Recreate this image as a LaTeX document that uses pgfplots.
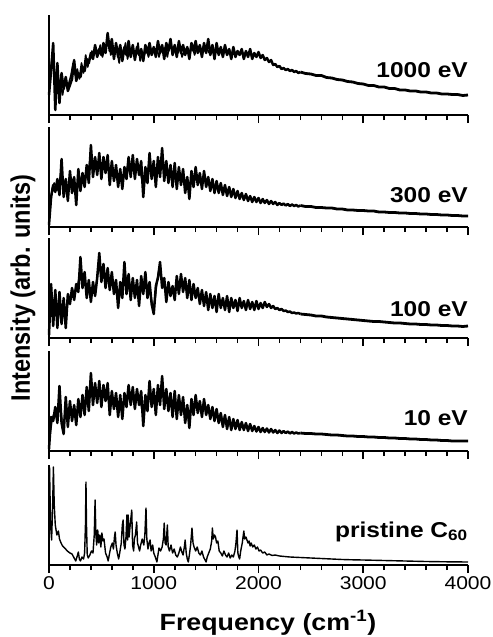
\documentclass[border=0pt]{standalone}
\usepackage{fontspec}
\setmainfont{Liberation Sans}
\usepackage{graphicx}
\usepackage{pgfplots}
\usepackage{pgfplotstable}
\pgfplotsset{compat=1.18}
\newcommand\hs[1]{\scalebox{1.14}[1]{#1}}
\newcommand\lblfont{\bfseries\fontsize{21.5bp}{22bp}\selectfont}

% ---- samples at 0,20,...,2400 cm^-1 ----
% 1000 eV
\pgfplotstableread[header=false,row sep=\\]{
20\\45\\72\\5\\52\\12\\42\\26\\38\\24\\
30\\36\\55\\34\\42\\38\\48\\44\\56\\52\\
62\\56\\70\\58\\66\\60\\72\\62\\82\\64\\
76\\56\\72\\58\\70\\54\\68\\60\\74\\58\\
70\\55\\68\\60\\66\\54\\70\\62\\72\\60\\
68\\58\\74\\62\\70\\56\\72\\64\\76\\60\\
70\\58\\74\\62\\70\\60\\68\\56\\72\\64\\
74\\62\\70\\58\\72\\62\\76\\60\\70\\56\\
72\\60\\68\\58\\70\\60\\66\\56\\68\\58\\
64\\60\\66\\56\\64\\58\\66\\56\\62\\58\\
63\\57\\60\\55\\57\\53\\55\\50\\51\\48\\
49\\46\\47\\45\\46\\44\\45\\43\\44\\42\\
43\\
}\tA
% 300 eV
\pgfplotstableread[header=false,row sep=\\]{
2\\30\\42\\35\\48\\32\\68\\30\\48\\26\\
56\\34\\50\\22\\58\\36\\54\\40\\62\\44\\
82\\50\\70\\52\\74\\48\\70\\54\\72\\42\\
66\\46\\62\\40\\58\\38\\60\\48\\70\\50\\
72\\48\\68\\52\\66\\30\\60\\44\\74\\48\\
66\\40\\70\\50\\79\\46\\66\\44\\62\\40\\
64\\38\\60\\42\\58\\34\\50\\28\\56\\40\\
60\\42\\54\\38\\56\\40\\50\\36\\48\\34\\
46\\34\\44\\32\\42\\31\\40\\30\\38\\29\\
36\\28\\34\\27\\33\\26\\31\\25\\30\\25\\
29\\24\\28\\24\\27\\23\\26\\23\\25\\22\\
24\\22\\23.5\\21.5\\23\\21\\22.5\\21\\22\\20.5\\
21.5\\
}\tB
% 100 eV
\pgfplotstableread[header=false,row sep=\\]{
3\\54\\12\\48\\10\\46\\14\\40\\10\\44\\
34\\50\\38\\54\\46\\81\\50\\66\\40\\58\\
36\\56\\42\\60\\85\\56\\74\\50\\70\\48\\
66\\44\\58\\30\\56\\40\\76\\44\\64\\38\\
60\\40\\58\\32\\62\\44\\66\\40\\56\\34\\
24\\52\\60\\76\\50\\60\\36\\56\\42\\52\\
38\\62\\44\\64\\46\\60\\40\\58\\38\\54\\
40\\50\\34\\48\\32\\46\\28\\44\\30\\42\\
26\\44\\30\\40\\28\\42\\26\\40\\30\\38\\
27\\40\\30\\37\\28\\38\\29\\36\\28\\37\\
29\\35\\30\\36\\31\\34\\30\\32\\29\\30\\
28\\29\\27\\27.5\\26\\26.5\\25\\25.5\\24.5\\25\\
24\\
}\tC
% 10 eV
\pgfplotstableread[header=false,row sep=\\]{
2\\34\\30\\44\\28\\65\\28\\17\\54\\24\\
50\\30\\46\\26\\52\\34\\56\\36\\64\\40\\
78\\46\\68\\48\\70\\44\\66\\50\\68\\36\\
60\\42\\58\\34\\56\\32\\58\\44\\66\\46\\
64\\42\\62\\46\\60\\25\\56\\40\\70\\44\\
62\\36\\66\\46\\75\\42\\62\\40\\58\\34\\
60\\32\\56\\36\\54\\28\\46\\23\\52\\36\\
56\\38\\50\\34\\52\\36\\46\\32\\44\\30\\
42\\28\\38\\24\\36\\22\\34\\21\\32\\22\\
31\\21\\29\\21\\28\\20\\27\\20\\25\\19.5\\
24\\19\\23\\19\\22.5\\18.5\\22\\18.5\\21\\18\\
20.5\\18\\20\\18\\19.5\\17.5\\19\\17.5\\18.5\\17.5\\
18\\
}\tD

% ---- in-between samples at 10,30,...,1690 cm^-1 ----
\pgfplotstableread[header=false,row sep=\\]{
30\\60\\40\\20\\35\\30\\20\\35\\28\\32\\
40\\52\\40\\46\\36\\52\\42\\60\\48\\58\\
64\\60\\66\\62\\70\\58\\66\\70\\74\\60\\
68\\62\\64\\52\\66\\60\\72\\56\\66\\62\\
64\\60\\72\\54\\62\\60\\66\\58\\66\\64\\
62\\66\\58\\66\\62\\68\\58\\70\\66\\64\\
66\\62\\68\\58\\64\\66\\62\\64\\68\\60\\
68\\66\\62\\66\\64\\66\\62\\68\\64\\62\\
66\\64\\62\\66\\62\\
}\sA
\pgfplotstableread[header=false,row sep=\\]{
18\\38\\44\\40\\36\\52\\44\\38\\36\\44\\
42\\48\\36\\44\\48\\44\\48\\52\\50\\66\\
64\\58\\64\\60\\62\\58\\64\\62\\56\\54\\
56\\52\\50\\48\\46\\50\\54\\60\\62\\58\\
60\\58\\62\\56\\46\\44\\52\\60\\58\\56\\
52\\56\\62\\64\\60\\56\\54\\52\\50\\52\\
50\\48\\52\\48\\44\\40\\38\\44\\48\\50\\
50\\46\\44\\46\\46\\44\\42\\40\\40\\38\\
40\\38\\37\\36\\35\\
}\sB
\pgfplotstableread[header=false,row sep=\\]{
30\\30\\30\\28\\26\\30\\26\\24\\30\\40\\
42\\44\\46\\50\\62\\64\\56\\52\\48\\46\\
48\\50\\52\\70\\70\\64\\62\\60\\58\\56\\
54\\50\\44\\42\\50\\60\\62\\54\\50\\48\\
50\\48\\46\\48\\54\\56\\52\\48\\44\\30\\
36\\56\\68\\62\\56\\48\\46\\48\\48\\46\\
50\\54\\54\\56\\52\\50\\48\\48\\46\\46\\
44\\42\\40\\40\\38\\38\\36\\36\\36\\34\\
34\\36\\34\\34\\35\\
}\sC
\pgfplotstableread[header=false,row sep=\\]{
16\\32\\38\\36\\46\\46\\22\\34\\40\\38\\
40\\38\\36\\40\\44\\46\\46\\50\\52\\62\\
60\\56\\58\\58\\56\\54\\58\\58\\50\\48\\
50\\50\\46\\44\\44\\46\\52\\56\\56\\54\\
52\\52\\54\\52\\40\\40\\48\\56\\56\\52\\
48\\52\\56\\60\\56\\52\\50\\48\\46\\46\\
46\\44\\46\\44\\40\\36\\34\\38\\44\\46\\
46\\44\\42\\42\\44\\40\\38\\38\\36\\36\\
34\\32\\30\\30\\28\\
}\sD

\pgfplotsset{
  panel/.style={
    width=419bp, height=100bp, scale only axis,
    anchor=south west,
    xmin=0, xmax=4000, ymin=0, ymax=100,
    axis x line*=bottom, axis y line*=left,
    axis line style={line width=2bp, black},
    ytick=\empty,
    xtick={0,1000,2000,3000,4000},
    minor x tick num=4,
    tick align=outside,
    major tick length=8bp, minor tick length=5bp,
    tick style={line width=1.6bp, black},
    xticklabels={},
    clip=false,
  },
  spec/.style={black, line width=2.5bp, line join=round},
  specb/.style={black, line width=1.6bp, line join=round},
  tail/.style={black, line width=2.8bp, line join=round},
}

\begin{document}
\begin{tikzpicture}
\path[use as bounding box] (0,0) rectangle (493bp,-637bp);

\begin{axis}[panel, at={(49bp,-115bp)}]
\addplot[spec] table[x expr=\coordindex*20, y index=0] {\tA};
\addplot[specb] table[x expr=10+\coordindex*20, y index=0] {\sA};
\addplot[tail] coordinates {(2400,43)(2450,41.5)(2500,41)(2550,39.5)(2600,39.5)(2650,37.5)(2700,37)(2750,35.5)(2800,35)(2850,33.5)(2900,33)(2950,31.5)(3000,31)(3050,29.5)(3100,29.5)(3150,28)(3200,28)(3250,26.5)(3300,26.5)(3350,25)(3400,25)(3450,24)(3500,24)(3550,23)(3600,23)(3650,22)(3700,22)(3750,21)(3800,21)(3850,20.5)(3900,20.5)(3950,19.5)(4000,20)};
\node[anchor=base east, inner sep=0pt, font=\lblfont] at (axis cs:4000,38) {\hs{1000 eV}};
\end{axis}

\begin{axis}[panel, at={(49bp,-227bp)}]
\addplot[spec] table[x expr=\coordindex*20, y index=0] {\tB};
\addplot[specb] table[x expr=10+\coordindex*20, y index=0] {\sB};
\addplot[tail] coordinates {(2400,21.5)(2450,20.5)(2500,20.5)(2550,19.5)(2600,19.5)(2650,19)(2700,19)(2750,18)(2800,18)(2850,17)(2900,17)(2950,16.5)(3000,16.5)(3050,16)(3100,16)(3150,15)(3200,15)(3250,14.5)(3300,14.5)(3350,14)(3400,14)(3450,13.5)(3500,13.5)(3550,13)(3600,13)(3650,12.5)(3700,12.5)(3750,12)(3800,12)(3850,11.5)(3900,11.5)(3950,11)(4000,11)};
\node[anchor=base east, inner sep=0pt, font=\lblfont] at (axis cs:4000,25) {\hs{300 eV}};
\end{axis}

\begin{axis}[panel, at={(49bp,-338bp)}]
\addplot[spec] table[x expr=\coordindex*20, y index=0] {\tC};
\addplot[specb] table[x expr=10+\coordindex*20, y index=0] {\sC};
\addplot[tail] coordinates {(2400,24)(2450,23.5)(2500,23)(2550,22)(2600,22)(2650,21)(2700,20.5)(2750,20)(2800,19.5)(2850,19)(2900,18.5)(2950,18)(3000,17.5)(3050,17)(3100,16.5)(3150,16.5)(3200,16)(3250,15.5)(3300,15)(3350,15)(3400,14.5)(3450,14)(3500,14)(3550,13.5)(3600,13.5)(3650,13)(3700,13)(3750,12.5)(3800,12.5)(3850,12)(3900,12)(3950,11.5)(4000,12)};
\node[anchor=base east, inner sep=0pt, font=\lblfont] at (axis cs:4000,22) {\hs{100 eV}};
\end{axis}

\begin{axis}[panel, at={(49bp,-451bp)}]
\addplot[spec] table[x expr=\coordindex*20, y index=0] {\tD};
\addplot[specb] table[x expr=10+\coordindex*20, y index=0] {\sD};
\addplot[tail] coordinates {(2400,18)(2450,17.5)(2500,17.5)(2550,17)(2600,17)(2650,16.5)(2700,16)(2750,16)(2800,15.5)(2850,15)(2900,15)(2950,14.5)(3000,14.5)(3050,14)(3100,14)(3150,13.5)(3200,13.5)(3250,13)(3300,13)(3350,12.5)(3400,12.5)(3450,12)(3500,12)(3550,11.5)(3600,11.5)(3650,11)(3700,11)(3750,10.5)(3800,10.5)(3850,10)(3900,10)(3950,10)(4000,10)};
\node[anchor=base east, inner sep=0pt, font=\lblfont] at (axis cs:4000,26) {\hs{10 eV}};
\end{axis}

\begin{axis}[panel, at={(49bp,-565bp)},
  xticklabels={\hs{0},\hs{1000},\hs{2000},\hs{3000},\hs{4000}},
  xticklabel style={font=\fontsize{18.5bp}{19bp}\selectfont, black}]
\addplot[black, line width=1.4bp, line join=round] coordinates {(0,0)(5,98)(15,40)(25,25)(35,60)(42,98)(50,60)(60,40)(75,30)(90,34)(100,26)(115,22)(130,19)(150,17)(175,14)(200,12)(220,11)(240,7)(255,4)(270,9)(280,13)(290,6)(300,4)(315,8)(330,6)(340,12)(348,40)(353,83)(358,40)(365,10)(375,7)(390,10)(405,14)(420,12)(432,30)(440,65)(448,30)(455,20)(465,35)(475,22)(485,30)(495,18)(505,32)(515,24)(525,26)(540,12)(555,8)(565,4)(575,10)(590,18)(605,22)(615,16)(625,28)(632,33)(640,20)(652,12)(665,6)(678,14)(690,22)(700,40)(708,45)(716,20)(725,16)(735,28)(744,50)(750,25)(756,50)(765,28)(775,40)(790,55)(798,20)(808,14)(815,26)(825,30)(837,43)(845,22)(855,18)(865,14)(875,20)(890,26)(905,20)(915,30)(926,57)(934,26)(945,16)(955,22)(965,25)(975,14)(990,20)(1000,12)(1015,8)(1030,3)(1040,10)(1050,17)(1065,14)(1080,18)(1092,26)(1100,42)(1108,22)(1118,20)(1130,40)(1138,18)(1150,14)(1165,20)(1180,12)(1195,16)(1210,10)(1225,8)(1240,12)(1255,18)(1265,14)(1280,10)(1292,18)(1300,25)(1310,12)(1320,6)(1330,3)(1340,10)(1352,20)(1365,37)(1375,22)(1385,18)(1400,14)(1415,18)(1430,12)(1445,10)(1460,14)(1475,8)(1490,5)(1500,3)(1510,8)(1525,12)(1540,16)(1553,24)(1560,37)(1568,26)(1580,30)(1590,28)(1600,22)(1612,24)(1625,14)(1640,12)(1655,9)(1670,14)(1685,10)(1700,8)(1715,12)(1730,7)(1745,10)(1760,8)(1775,14)(1785,22)(1795,35)(1803,12)(1812,8)(1820,6)(1830,14)(1845,22)(1860,34)(1868,26)(1880,28)(1890,25)(1900,22)(1910,24)(1920,19)(1930,22)(1945,18)(1960,20)(1975,16)(1990,18)(2005,14)(2020,15)(2040,12)(2060,13)(2080,10)(2100,11)(2130,9.5)(2160,10)(2200,9)(2250,8.5)(2300,8)(2400,7.5)(2500,7)(2600,6.5)(2700,6)(2800,5.5)(2900,5.2)(3000,5)(3200,4.5)(3400,4)(3600,3.5)(3800,3.2)(4000,3)};
\node[anchor=base east, inner sep=0pt, font=\lblfont] at (axis cs:4000,28) {\hs{pristine C\textsubscript{60}}};
\end{axis}

\node[anchor=base, inner sep=0pt, font=\bfseries\fontsize{23.5bp}{24bp}\selectfont] at (268bp,-630bp) {\hs{Frequency (cm\textsuperscript{-1})}};
\node[rotate=90, inner sep=0pt, font=\bfseries\fontsize{23.5bp}{24bp}\selectfont] at (23bp,-288bp) {\scalebox{1}[1.14]{Intensity (arb. units)}};
\end{tikzpicture}
\end{document}
